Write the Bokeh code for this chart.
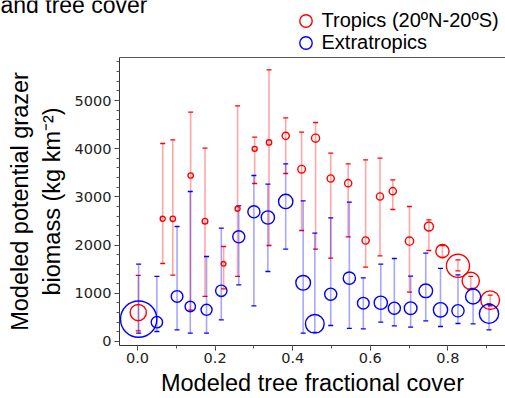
import math
from bokeh.plotting import figure
from bokeh.models import (Range1d, ColumnDataSource, Whisker, TeeHead, Legend, LegendItem,
                          Label, LinearAxis, SingleIntervalTicker, NumeralTickFormatter)
from bokeh.embed import file_html
from bokeh.resources import INLINE

# ---- data ----
trop_cover = [0.002, 0.065, 0.091, 0.137, 0.174, 0.222, 0.258, 0.302, 0.339, 0.382, 0.423, 0.459,
              0.498, 0.543, 0.588, 0.625, 0.658, 0.701, 0.751, 0.786, 0.826, 0.859, 0.909]
trop_biomass = [600, 2545, 2545, 3444, 2497, 1612, 2753, 3997, 4129, 4267, 3575, 4218,
                3382, 3285, 2095, 3008, 3119, 2081, 2386, 1874, 1570, 1259, 857]
trop_lower = [222, 1618, 1376, 650, 934, 1093, 1349, 3278, 1992, 3485, 2303, 1915,
              1728, 2172, 1541, 1778, 2739, 1023, 1888, 1743, 1467, 1093, 741]
trop_upper = [1370, 4108, 4184, 4758, 4011, 1971, 4890, 4239, 5637, 4641, 4343, 4544,
              3907, 3686, 3769, 3803, 3354, 2801, 2525, 1992, 1695, 1349, 961]
trop_weight = [77, 10, 11, 11, 12, 9, 10, 10, 11, 18, 20, 22, 18, 18, 18, 18, 18, 23, 27, 53, 149, 86, 100]

extra_cover = [0.003, 0.050, 0.102, 0.136, 0.178, 0.216, 0.261, 0.300, 0.336, 0.382, 0.427, 0.457,
               0.498, 0.546, 0.582, 0.627, 0.662, 0.704, 0.743, 0.781, 0.826, 0.865, 0.906]
extra_biomass = [463, 401, 934, 726, 657, 1051, 2172, 2690, 2573, 2905, 1218, 367,
                 981, 1314, 795, 803, 691, 691, 1051, 657, 637, 934, 575]
extra_lower = [172, 207, 242, 172, 172, 450, 1176, 740, 1452, 1915, 172, 187,
               332, 270, 263, 401, 325, 297, 429, 311, 373, 367, 242]
extra_upper = [1604, 1349, 2386, 3112, 1763, 2351, 2815, 3444, 3264, 3686, 2919, 2247,
               2566, 2890, 1321, 1604, 1722, 1355, 1833, 1515, 1383, 1100, 782]
extra_weight = [353, 40, 42, 34, 38, 40, 45, 45, 53, 61, 64, 100, 45, 46, 42, 53, 45, 49, 56, 61, 46, 67, 106]

x_ticks_interval = 0.2
y_ticks_interval = 1000
series_labels = ["Tropics (20ºN-20ºS)", "Extratropics"]
title_text = "and tree cover"

RED = "#ff0000"
BLUE = "#0000ff"
SANS = "Liberation Sans"
TICKFONT = "DejaVu Sans"

# axes box (data units) and the canvas extent around it
X0, X1 = -0.0464, 0.9485      # left axis position .. right edge
Y0, Y1 = -83, 5892            # bottom axis position .. top frame line
CANVAS_X = (-0.3531, 0.9485)
CANVAS_Y = (-1183, 7075)


def marker_size(w):
    return [2 * math.sqrt(v) - 1.3 for v in w]


p = figure(width=505, height=398, output_backend="svg", toolbar_location=None,
           x_range=Range1d(*CANVAS_X), y_range=Range1d(*CANVAS_Y),
           x_axis_location=None, y_axis_location=None,
           min_border_left=0, min_border_right=0, min_border_top=0, min_border_bottom=0)
p.outline_line_color = None
p.grid.visible = False
p.background_fill_color = "white"
p.border_fill_color = "white"

src_t = ColumnDataSource(dict(x=trop_cover, y=trop_biomass, lo=trop_lower, hi=trop_upper,
                              s=marker_size(trop_weight)))
src_e = ColumnDataSource(dict(x=extra_cover, y=extra_biomass, lo=extra_lower, hi=extra_upper,
                              s=marker_size(extra_weight)))

for src, col in ((src_t, RED), (src_e, BLUE)):
    w = Whisker(source=src, base="x", lower="lo", upper="hi", dimension="height",
                line_color=col, line_alpha=0.35, line_width=1.6,
                upper_head=TeeHead(size=5, line_color=col, line_width=1.3),
                lower_head=TeeHead(size=5, line_color=col, line_width=1.3))
    w.level = "underlay"
    p.add_layout(w)

r_t = p.scatter("x", "y", source=src_t, size="s", marker="circle", fill_color=None,
                line_color=RED, line_width=1.4)
r_e = p.scatter("x", "y", source=src_e, size="s", marker="circle", fill_color=None,
                line_color=BLUE, line_width=1.4)

# top frame line
p.segment(x0=X0, y0=Y1, x1=X1, y1=Y1, line_color="#555555", line_width=1.2)

# axes, drawn at fixed positions
xaxis = LinearAxis(fixed_location=Y0, bounds=(X0, X1),
                   ticker=SingleIntervalTicker(interval=x_ticks_interval, num_minor_ticks=2),
                   formatter=NumeralTickFormatter(format="0.0"),
                   axis_label="Modeled tree fractional cover")
yaxis = LinearAxis(fixed_location=X0, bounds=(Y0, Y1),
                   ticker=SingleIntervalTicker(interval=y_ticks_interval, num_minor_ticks=5),
                   axis_label="Modeled potential grazer\nbiomass (kg km\u207b\u00b2)")
for ax in (xaxis, yaxis):
    ax.axis_label_text_font = SANS
    ax.axis_label_text_font_size = "23.5px"
    ax.axis_label_text_font_style = "normal"
    ax.axis_label_text_color = "black"
    ax.major_label_text_font = TICKFONT
    ax.major_label_text_font_size = "14.5px"
    ax.major_label_text_color = "#222222"
    ax.axis_line_color = "#333333"
    ax.major_tick_line_color = "#333333"
    ax.minor_tick_line_color = "#555555"
    ax.major_tick_in = 0
    ax.major_tick_out = 5
    ax.minor_tick_in = 0
    ax.minor_tick_out = 3
    ax.major_label_standoff = 3
xaxis.axis_label_standoff = 3
yaxis.axis_label_standoff = 7
p.add_layout(xaxis, "below")
p.add_layout(yaxis, "left")

# one legend per row so that the row pitch and the marker size can be set separately
legend_style = dict(glyph_width=33, glyph_height=31, spacing=0, label_standoff=0, padding=0,
                    margin=0, border_line_color=None, background_fill_alpha=0,
                    label_text_font=SANS, label_text_font_size="20px",
                    label_text_color="black", label_height=24, label_width=183)
for label, renderer, loc in ((series_labels[0], r_t, (288.5, 362)),
                             (series_labels[1], r_e, (288.5, 340))):
    p.add_layout(Legend(items=[LegendItem(label=label, renderers=[renderer])],
                        location=loc, **legend_style))

ttl = Label(x=CANVAS_X[0], y=6992, text=title_text, text_font=SANS, text_font_size="23px",
            text_baseline="alphabetic", text_align="left", text_color="black")
p.add_layout(ttl)

open("out.html", "w").write(file_html(p, INLINE))
